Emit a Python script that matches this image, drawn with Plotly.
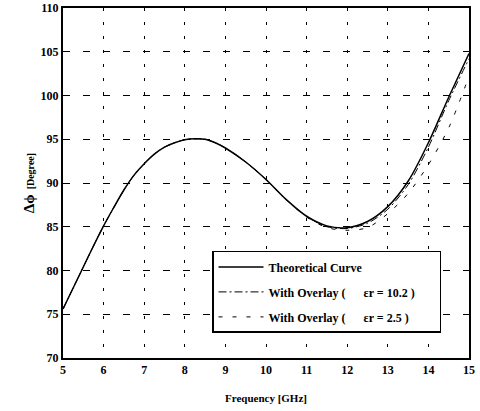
import plotly.graph_objects as go

freq = [5.0, 5.25, 5.5, 5.75, 6.0, 6.25, 6.5, 6.75, 7.0, 7.25, 7.5, 7.75, 8.0, 8.25, 8.5, 8.75, 9.0, 9.5, 10.0, 10.5, 11.0, 11.5, 12.0, 12.5, 13.0, 13.5, 14.0, 14.5, 15.0]
theory = [75.6, 78.0, 80.4, 82.8, 85.1, 87.2, 89.2, 90.9, 92.2, 93.3, 94.1, 94.6, 94.95, 95.05, 95.0, 94.6, 94.0, 92.4, 90.4, 88.1, 86.2, 85.1, 84.9, 85.6, 87.3, 90.2, 94.6, 99.8, 104.8]
overlay_102 = [75.6, 78.0, 80.4, 82.8, 85.1, 87.2, 89.2, 90.9, 92.2, 93.3, 94.1, 94.6, 94.95, 95.05, 95.0, 94.6, 94.0, 92.4, 90.4, 88.1, 86.2, 85.0, 84.8, 85.4, 87.0, 89.8, 94.1, 99.4, 104.2]
overlay_25 = [75.6, 78.0, 80.4, 82.8, 85.1, 87.2, 89.2, 90.9, 92.2, 93.3, 94.1, 94.6, 94.95, 95.05, 95.0, 94.6, 94.0, 92.4, 90.4, 88.1, 86.1, 84.9, 84.6, 84.9, 86.5, 88.8, 92.1, 96.3, 102.2]

x_ticks = [5, 6, 7, 8, 9, 10, 11, 12, 13, 14, 15]
y_ticks = [70, 75, 80, 85, 90, 95, 100, 105, 110]

NB = "\u00a0"
names = ["Theoretical Curve" + NB * 24,
         "With Overlay (" + NB * 6 + "\u03b5r = 10.2 )" + NB * 5,
         "With Overlay (" + NB * 6 + "\u03b5r = 2.5 )" + NB * 5]

serif = "Liberation Serif"

fig = go.Figure()
fig.add_trace(go.Scatter(x=freq, y=theory, mode="lines", name=names[0], legendgroup="a",
                         line=dict(color="black", width=1.5, shape="spline", smoothing=0.8)))
fig.add_trace(go.Scatter(x=freq, y=overlay_102, mode="lines", name=names[1], legendgroup="b",
                         line=dict(color="black", width=1, dash="8px,3px,2px,3px", shape="spline", smoothing=0.8)))
fig.add_trace(go.Scatter(x=freq, y=overlay_25, mode="lines", name=names[2], legendgroup="c",
                         line=dict(color="black", width=1, dash="4px,10px", shape="spline", smoothing=0.8)))

fig.update_layout(
    width=480, height=411,
    margin=dict(l=63, r=11, t=8, b=53),
    paper_bgcolor="white", plot_bgcolor="white",
    font=dict(family=serif, color="black", size=12),
    showlegend=True,
    legend=dict(x=0.367, y=0.306, xanchor="left", yanchor="top",
                bgcolor="white", bordercolor="black", borderwidth=1.5,
                font=dict(family=serif, size=12, color="black", weight="bold"),
                itemwidth=45, tracegroupgap=6),
    xaxis=dict(range=[5, 15], tickvals=x_ticks, ticktext=[str(v) for v in x_ticks],
               showgrid=True, gridcolor="black", gridwidth=1, griddash="3px,11px",
               showline=True, linecolor="black", linewidth=2, mirror=True,
               ticks="", zeroline=False, automargin=False,
               tickfont=dict(family=serif, size=12, color="black", weight="bold"),
               title=dict(text="<b>Frequency [GHz]</b>", font=dict(family=serif, size=11), standoff=18)),
    yaxis=dict(range=[70, 110], tickvals=y_ticks, ticktext=[str(v) for v in y_ticks],
               showgrid=True, gridcolor="black", gridwidth=1, griddash="7px,13px",
               showline=True, linecolor="black", linewidth=2, mirror=True,
               ticks="", zeroline=False, automargin=False,
               tickfont=dict(family=serif, size=12, color="black", weight="bold"),
               title=dict(text="<b><span style='font-size:15px'>\u0394\u03d5</span>" + NB * 2 + "[Degree]</b>",
                          font=dict(family=serif, size=10), standoff=4)),
)

fig.write_html("out.html", config={"displayModeBar": False},
               post_script="document.body.style.margin='0';document.body.style.overflow='hidden';")
